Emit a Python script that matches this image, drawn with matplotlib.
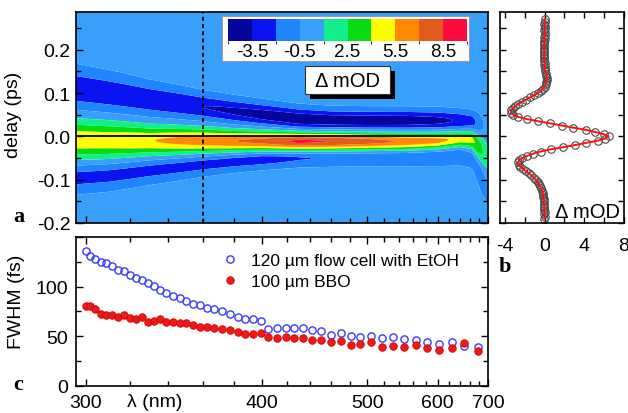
import numpy as np
import matplotlib
matplotlib.use("Agg")
import matplotlib.pyplot as plt
from matplotlib.colors import ListedColormap, BoundaryNorm
from matplotlib.cm import ScalarMappable
from matplotlib.patches import Rectangle
from matplotlib.ticker import FixedLocator, NullFormatter

plt.rcParams['font.family'] = ['Liberation Sans', 'DejaVu Sans']

# ---------------- data ----------------
# panel c: FWHM vs wavelength
wl = [300, 302, 304.3, 306.7, 309.2, 311.8, 314.4, 317.3, 320, 323, 326, 329, 332.3, 335.7,
      338.9, 342.6, 346.3, 350.1, 354, 358.3, 362.7, 367.2, 371.9, 377.1, 382.6, 387.9, 393.4,
      399.2, 405, 412, 419, 426, 434, 442, 451, 460, 471, 481, 492, 504, 518, 532, 548, 565,
      583, 603, 625, 649, 677]
fwhm_flow = [135.9, 131.1, 127.8, 125.1, 123.4, 120.4, 117.0, 115.3, 111.6, 108.9, 106.6, 103.5,
             100.5, 96.8, 93.4, 90.7, 88.1, 85.7, 82.3, 81.3, 78.6, 77.3, 75.3, 72.2, 69.2, 67.2,
             66.9, 64.8, 57.4, 58.1, 58.4, 58.1, 58.1, 56.5, 55.1, 51.3, 52.7, 50.3, 48.7, 50.0,
             48.3, 49.0, 46.7, 46.0, 44.2, 42.2, 43.6, 39.9, 38.6]
fwhm_bbo = [80.6, 80.3, 77.3, 72.2, 70.9, 71.2, 69.2, 71.5, 68.2, 66.9, 68.9, 64.4, 65.2, 66.9,
            64.1, 64.1, 63.4, 62.8, 60.8, 59.4, 58.8, 58.4, 57.4, 56.1, 54.3, 52.3, 52.3, 53.3,
            48.7, 48.3, 49.0, 48.3, 47.7, 46.3, 45.7, 43.9, 44.6, 41.2, 41.6, 43.6, 39.2, 39.6,
            38.9, 40.9, 38.2, 36.2, 38.2, 42.9, 34.8]
label_flow = "120 µm flow cell with EtOH"
label_bbo = "100 µm BBO"

# panel b: transient at 360 nm (delay in ps, signal in mOD)
cut_wl = 360
delay_b = np.round(np.arange(-0.19, 0.2701, 0.005), 3)
mod_b = [-0.02, 0.00, -0.03, 0.00, -0.04, -0.03, -0.05, -0.06, -0.08, -0.08, -0.12, -0.15,
         -0.20, -0.27, -0.35, -0.45, -0.58, -0.70, -0.90, -1.10, -1.33, -1.62, -1.90, -2.17,
         -2.45, -2.62, -2.68, -2.55, -2.25, -1.75, -1.17, -0.40, 0.60, 1.90, 3.10, 4.20, 5.35,
         6.10, 6.45,
         5.95, 5.10, 4.15, 2.90, 1.75, 0.55, -0.70, -1.80, -2.70, -3.15, -3.40, -3.35, -3.20,
         -2.95, -2.65, -2.25, -1.85, -1.45, -1.05, -0.70, -0.40, -0.15, 0.00, 0.10, 0.18, 0.25,
         0.22, 0.18, 0.12, 0.05, 0.03, 0.02, -0.03, 0.00, -0.05, -0.03, -0.05, -0.02, -0.06,
         -0.04, -0.05, -0.02, -0.05, -0.03, 0.00, -0.02, 0.02, 0.00, -0.02, 0.01, 0.00, -0.02,
         0.01, 0.00]

# panel a: map features per wavelength node
lam_nodes = [296, 310, 330, 360, 380, 400, 430, 460, 500, 550, 600, 640, 665, 685, 700]
pos_amp = [5.0, 5.0, 5.4, 6.5, 7.0, 7.5, 9.0, 8.6, 7.8, 6.9, 6.2, 5.0, 4.5, 3.0, 1.5]
pos_cen = [-0.008, -0.009, -0.010, -0.010, -0.011, -0.011, -0.012, -0.012, -0.012, -0.012,
           -0.010, -0.006, -0.008, -0.03, -0.05]
pos_wid = [0.030, 0.028, 0.023, 0.019, 0.017, 0.016, 0.015, 0.015, 0.015, 0.015, 0.014, 0.013,
           0.015, 0.03, 0.04]
up_amp = [-3.2, -3.2, -3.3, -3.5, -3.8, -4.2, -4.6, -4.6, -4.6, -4.5, -4.0, -3.3, -2.8, -1.5, -0.5]
up_cen = [0.110, 0.100, 0.085, 0.068, 0.058, 0.050, 0.040, 0.037, 0.036, 0.036, 0.036, 0.036,
          0.034, 0.02, 0.0]
up_wid = [0.030, 0.028, 0.024, 0.020, 0.019, 0.018, 0.017, 0.016, 0.016, 0.016, 0.016, 0.015,
          0.015, 0.02, 0.02]
lo_amp = [-2.6, -2.6, -2.6, -2.7, -2.8, -3.0, -2.5, -2.3, -2.2, -2.2, -2.1, -2.0, -1.5, -2.0, -1.0]
lo_cen = [-0.095, -0.090, -0.078, -0.064, -0.057, -0.052, -0.047, -0.046, -0.045, -0.045,
          -0.045, -0.044, -0.05, -0.09, -0.12]
lo_wid = [0.022, 0.021, 0.019, 0.016, 0.015, 0.014, 0.014, 0.014, 0.014, 0.014, 0.014, 0.014,
          0.016, 0.025, 0.03]

levels = [-5, -3.5, -2, -0.5, 1, 2.5, 4, 5.5, 7, 8.5, 10]
cbar_ticks = [-3.5, -0.5, 2.5, 5.5, 8.5]
level_colors = ['#06069c', '#0a14f2', '#2086ff', '#38a0fb', '#10f08a', '#08dc10',
                '#ffff00', '#ff8a00', '#e25a1c', '#ff0a3c']

wl_major = [300, 400, 500, 600, 700]
wl_minor = [w for w in range(300, 701, 20) if w not in wl_major]

# ---------------- figure ----------------
W, H = 628, 414
fig = plt.figure(figsize=(W / 100, H / 100), dpi=100)


def fwd(x):
    x = np.asarray(x, dtype=float)
    with np.errstate(divide='ignore', invalid='ignore'):
        return -1.0 / x


def inv(y):
    y = np.asarray(y, dtype=float)
    with np.errstate(divide='ignore', invalid='ignore'):
        return -1.0 / y


def px_axes(l, t, r, b):
    return fig.add_axes([l / W, 1 - b / H, (r - l) / W, (b - t) / H])


ax_a = px_axes(76, 13, 488, 224)
ax_b = px_axes(500, 13, 624, 224)
ax_c = px_axes(76, 238, 488, 386.5)

FS = 14
for ax in (ax_a, ax_b, ax_c):
    for s in ax.spines.values():
        s.set_linewidth(1.2)
    ax.tick_params(which='both', direction='in', width=1.0, labelsize=FS)
    ax.tick_params(which='major', length=5)
    ax.tick_params(which='minor', length=3.5)

# ---- panel a: map ----
inv_grid = np.linspace(1 / 296, 1 / 700, 400)
lam_grid = 1 / inv_grid
t_grid = np.linspace(-0.2, 0.29, 400)
L, T = np.meshgrid(lam_grid, t_grid)


def node(p):
    return np.interp(L, lam_nodes, p)


Z = (node(pos_amp) * np.exp(-(T - node(pos_cen)) ** 2 / (2 * node(pos_wid) ** 2))
     + node(up_amp) * np.exp(-(T - node(up_cen)) ** 2 / (2 * node(up_wid) ** 2))
     + node(lo_amp) * np.exp(-(T - node(lo_cen)) ** 2 / (2 * node(lo_wid) ** 2)))
Z = np.clip(Z, -4.99, 9.99)

ax_a.set_xscale('function', functions=(fwd, inv))
ax_a.contourf(L, T, Z, levels=levels, colors=level_colors, antialiased=True)
ax_a.set_xlim(296, 700)
ax_a.set_ylim(-0.2, 0.287)
ax_a.axhline(0, color='black', lw=1.3)
ax_a.axvline(cut_wl, color='black', lw=1.3, ls=(0, (2.2, 1.8)))
ax_a.xaxis.set_major_locator(FixedLocator(wl_major))
ax_a.xaxis.set_minor_locator(FixedLocator(wl_minor))
ax_a.xaxis.set_major_formatter(NullFormatter())
ax_a.xaxis.set_minor_formatter(NullFormatter())
ax_a.yaxis.set_major_locator(FixedLocator([-0.2, -0.1, 0.0, 0.1, 0.2]))
ax_a.yaxis.set_minor_locator(FixedLocator([-0.15, -0.05, 0.05, 0.15, 0.25]))
ax_a.set_yticklabels(['-0.2', '-0.1', '0.0', '0.1', '0.2'])
ax_a.tick_params(axis='y', which='both', right=True, pad=4)
ax_a.set_ylabel('delay (ps)', fontsize=FS)
ax_a.yaxis.set_label_coords(-0.13, 0.517)

# colorbar box
fig.patches.append(Rectangle((221.7 / W, 1 - 61.7 / H), (469 - 221.7) / W, 45 / H,
                             transform=fig.transFigure, fc='white', ec='#9a9a9a', lw=0.8,
                             zorder=5))
cax = px_axes(228, 20, 467, 41.7)
cax.set_zorder(6)
sm = ScalarMappable(norm=BoundaryNorm(levels, len(level_colors)),
                    cmap=ListedColormap(level_colors))
cb = fig.colorbar(sm, cax=cax, orientation='horizontal', ticks=cbar_ticks)
cb.outline.set_visible(False)
cb.ax.tick_params(length=0, labelsize=13.5, pad=2)
cb.ax.set_xticklabels([str(v) for v in cbar_ticks])

# Delta mOD label box with shadow
fig.patches.append(Rectangle((310 / W, 1 - 100 / H), 85 / W, 28 / H,
                             transform=fig.transFigure, fc='black', ec='none', zorder=5))
fig.patches.append(Rectangle((305 / W, 1 - 95 / H), 85 / W, 28 / H,
                             transform=fig.transFigure, fc='white', ec='#333333', lw=0.8,
                             zorder=5.5))
fig.text(347.5 / W, 1 - 81.5 / H, 'Δ mOD', ha='center', va='center', fontsize=14.5, zorder=7)

# ---- panel b ----
ax_b.plot(mod_b, delay_b, ls='none', marker='o', ms=5.4, mfc='none', mec='#4a4a4a', mew=0.8)
ax_b.plot(mod_b, delay_b, color='#ff1010', lw=1.4)
ax_b.set_ylim(-0.2, 0.287)
ax_b.set_xlim(-4.5, 8.0)
ax_b.xaxis.set_major_locator(FixedLocator([-4, 0, 4, 8]))
ax_b.xaxis.set_minor_locator(FixedLocator([-2, 2, 6]))
ax_b.set_xticklabels(['-4', '0', '4', '8'])
ax_b.yaxis.set_major_locator(FixedLocator([-0.2, -0.1, 0.0, 0.1, 0.2]))
ax_b.yaxis.set_minor_locator(FixedLocator([-0.15, -0.05, 0.05, 0.15, 0.25]))
ax_b.yaxis.set_major_formatter(NullFormatter())
ax_b.tick_params(which='both', top=True, right=True, length=4.5)
ax_b.tick_params(axis='x', pad=10)
ax_b.text(0.97, 0.01, 'Δ mOD', transform=ax_b.transAxes, ha='right', va='bottom', fontsize=14.5)

# ---- panel c ----
ax_c.set_xscale('function', functions=(fwd, inv))
ax_c.plot(wl, fwhm_flow, ls='none', marker='o', ms=5.2, mfc='none', mec='#3a3aff', mew=1.0,
          label=label_flow)
ax_c.plot(wl, fwhm_bbo, ls='none', marker='o', ms=5.4, mfc='#ee1a1a', mec='#d40000', mew=0.6,
          label=label_bbo)
ax_c.set_xlim(296, 700)
ax_c.set_ylim(0, 150)
ax_c.xaxis.set_major_locator(FixedLocator(wl_major))
ax_c.xaxis.set_minor_locator(FixedLocator(wl_minor))
ax_c.set_xticklabels([str(v) for v in wl_major])
ax_c.xaxis.set_minor_formatter(NullFormatter())
ax_c.yaxis.set_major_locator(FixedLocator([0, 50, 100, 150]))
ax_c.yaxis.set_minor_locator(FixedLocator([25, 75, 125]))
ax_c.set_yticklabels(['0', '50', '100', ''])
ax_c.tick_params(which='both', top=True, right=True)
ax_c.tick_params(axis='x', pad=6)
ax_c.tick_params(axis='y', pad=6)
ax_c.set_ylabel('FWHM (fs)', fontsize=FS)
ax_c.yaxis.set_label_coords(-0.124, 0.571)
ax_c.legend(loc='upper left', bbox_to_anchor=(0.353, 0.895), frameon=False, fontsize=12.5,
            borderaxespad=0, borderpad=0, handlelength=1.0, handletextpad=0.7,
            labelspacing=0.33, numpoints=1)
fig.text(155 / W, 1 - 403 / H, 'λ (nm)', ha='center', va='center', fontsize=FS)

# panel letters
for letter, x, y in (('a', 13, 222), ('b', 499, 272), ('c', 13, 390)):
    fig.text(x / W, 1 - y / H, letter, ha='left', va='baseline', fontsize=16,
             fontweight='bold', family='Liberation Serif')

fig.savefig('out.png', dpi=100)
